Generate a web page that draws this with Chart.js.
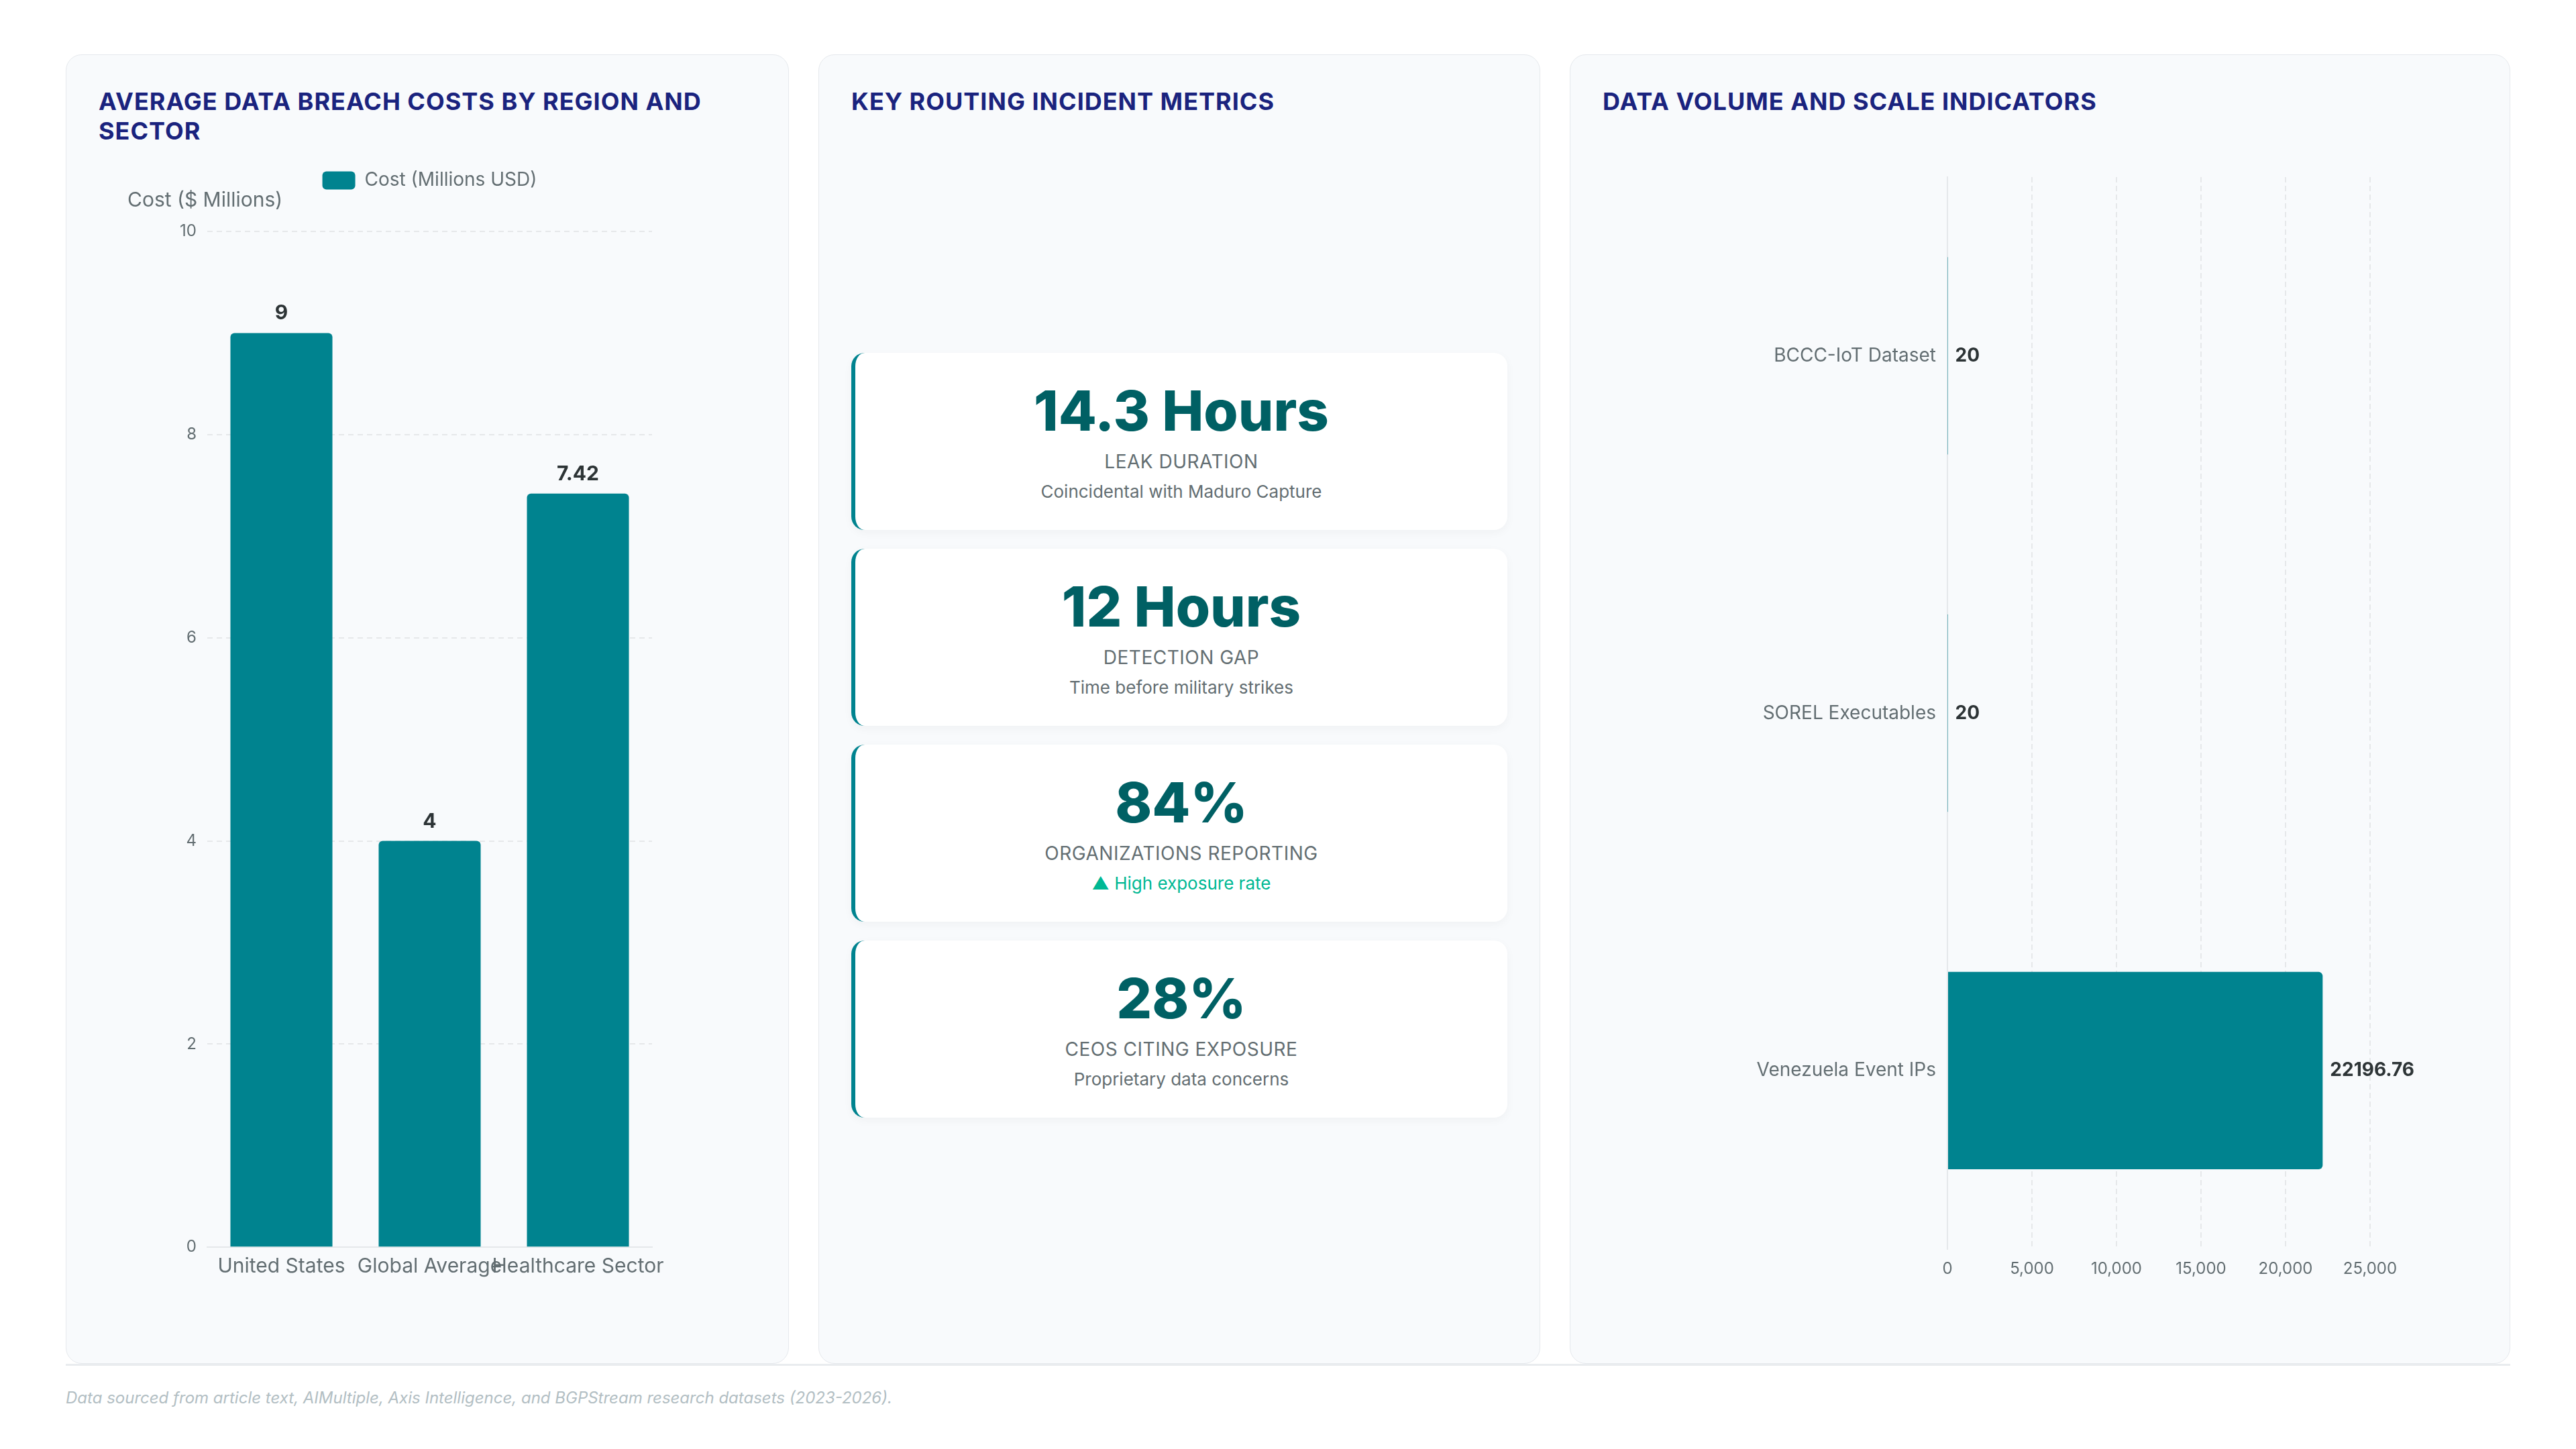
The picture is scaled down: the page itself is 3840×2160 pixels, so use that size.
<!DOCTYPE html>
<html lang="en">
<head>
<meta charset="utf-8">
<title>Routing incident dashboard</title>
<script src="https://cdn.jsdelivr.net/npm/chart.js@4.4.1/dist/chart.umd.min.js"></script>
<style>
	* { box-sizing: border-box; }
	html, body { margin: 0; background: #ffffff; }
	body {
		width: 3840px;
		height: 2160px;
		padding: 81px 98px 0;
		font-family: Inter, 'Noto Sans', sans-serif;
	}
	.grid {
		display: grid;
		grid-template-columns: 1078px 1076px 1402px;
		column-gap: 44px;
		height: 1955px;
		border-bottom: 3px solid #e9ecef;
	}
	.panel {
		background: #f8fafc;
		border: 1px solid #e6e9ed;
		border-radius: 24px;
		padding: 48px;
		display: flex;
		flex-direction: column;
		min-height: 0;
	}
	.panel h2 {
		margin: 0 0 20px;
		font-size: 36px;
		line-height: 1.22;
		font-weight: 700;
		color: #1a237e;
		letter-spacing: 1px;
		text-transform: uppercase;
	}
	.chart-box { position: relative; flex: 1; min-height: 0; }
	.kpis {
		flex: 1;
		display: flex;
		flex-direction: column;
		justify-content: center;
		gap: 28px;
		padding-top: 14px;
	}
	.kpi {
		height: 264px;
		background: #ffffff;
		border-left: 6px solid #00838f;
		border-radius: 20px;
		box-shadow: 0 4px 14px rgba(0, 0, 0, 0.04);
		display: flex;
		flex-direction: column;
		justify-content: center;
		align-items: center;
		text-align: center;
	}
	.kpi-value {
		font-size: 83px;
		line-height: 95px;
		font-weight: 800;
		color: #006064;
	}
	.kpi-label {
		margin-top: 9px;
		font-size: 28px;
		line-height: 1.4;
		color: #636e72;
		letter-spacing: 0.5px;
		text-transform: uppercase;
	}
	.kpi-note {
		margin-top: 7px;
		font-size: 26px;
		line-height: 1.4;
		color: #636e72;
	}
	.kpi-note.up { color: #00b894; }
	.footer {
		margin-top: 31px;
		font-size: 24px;
		line-height: 1.4;
		font-style: italic;
		color: #b2bec3;
	}
</style>
</head>
<body>
<div class="grid">
	<div class="panel">
		<h2>Average Data Breach Costs by Region and Sector</h2>
		<div class="chart-box"><canvas id="costChart"></canvas></div>
	</div>
	<div class="panel">
		<h2>Key Routing Incident Metrics</h2>
		<div class="kpis" id="kpis"></div>
	</div>
	<div class="panel">
		<h2>Data Volume and Scale Indicators</h2>
		<div class="chart-box"><canvas id="volumeChart"></canvas></div>
	</div>
</div>
<div class="footer">Data sourced from article text, AIMultiple, Axis Intelligence, and BGPStream research datasets (2023-2026).</div>

<script>
// breach cost chart
const costCategories = [ 'United States', 'Global Average', 'Healthcare Sector' ];
const costValues = [ 9, 4, 7.42 ];
const costSeriesName = 'Cost (Millions USD)';
const costAxisName = 'Cost ($ Millions)';

// data volume chart
const volumeCategories = [ 'BCCC-IoT Dataset', 'SOREL Executables', 'Venezuela Event IPs' ];
const volumeValues = [ 20, 20, 22196.76 ];

// metric cards
const kpiValues = [ '14.3 Hours', '12 Hours', '84%', '28%' ];
const kpiLabels = [ 'Leak Duration', 'Detection Gap', 'Organizations Reporting', 'CEOs Citing Exposure' ];
const kpiNotes = [ 'Coincidental with Maduro Capture', 'Time before military strikes', '▲ High exposure rate', 'Proprietary data concerns' ];
const kpiNoteUp = [ false, false, true, false ];

const TEAL = '#00838f';
const MUTED = '#636e72';
const GRID = 'rgba(0, 0, 0, 0.07)';

Chart.defaults.font.family = 'Inter, "Noto Sans", sans-serif';
Chart.defaults.color = MUTED;

// build the metric cards
const kpiBox = document.getElementById( 'kpis' );
kpiValues.forEach( ( value, i ) => {
	const card = document.createElement( 'div' );
	card.className = 'kpi';
	card.innerHTML =
		'<div class="kpi-value">' + value + '</div>' +
		'<div class="kpi-label">' + kpiLabels[ i ] + '</div>' +
		'<div class="kpi-note' + ( kpiNoteUp[ i ] ? ' up' : '' ) + '">' + kpiNotes[ i ] + '</div>';
	kpiBox.appendChild( card );
} );

// value labels drawn next to each bar
const valueLabels = {
	id: 'valueLabels',
	afterDatasetsDraw( chart, args, opts ) {
		const { ctx } = chart;
		const meta = chart.getDatasetMeta( 0 );
		const data = chart.data.datasets[ 0 ].data;
		const horizontal = chart.options.indexAxis === 'y';
		ctx.save();
		ctx.font = opts.font;
		ctx.fillStyle = '#2d3436';
		meta.data.forEach( ( bar, i ) => {
			const text = String( data[ i ] );
			if ( horizontal ) {
				ctx.textAlign = 'left';
				ctx.textBaseline = 'middle';
				ctx.fillText( text, bar.x + opts.offset, bar.y );
			} else {
				ctx.textAlign = 'center';
				ctx.textBaseline = 'middle';
				ctx.fillText( text, bar.x, bar.y - opts.offset );
			}
		} );
		ctx.restore();
	},
};

// horizontal axis name above the value axis
const axisCaption = {
	id: 'axisCaption',
	afterDraw( chart, args, opts ) {
		if ( ! opts.text ) {
			return;
		}
		const { ctx, chartArea } = chart;
		ctx.save();
		ctx.font = opts.font;
		ctx.fillStyle = MUTED;
		ctx.textAlign = 'left';
		ctx.textBaseline = 'middle';
		ctx.fillText( opts.text, chart.scales.y.left + opts.dx, chartArea.top - opts.dy );
		ctx.restore();
	},
};

// leave room under the legend for the axis name
const legendSpacer = {
	id: 'legendSpacer',
	beforeInit( chart, args, opts ) {
		if ( ! chart.legend ) {
			return;
		}
		const fit = chart.legend.fit;
		chart.legend.fit = function () {
			fit.bind( chart.legend )();
			this.height += opts.extra || 0;
		};
	},
};

new Chart( document.getElementById( 'costChart' ), {
	type: 'bar',
	data: {
		labels: costCategories,
		datasets: [
			{
				label: costSeriesName,
				data: costValues,
				backgroundColor: TEAL,
				borderRadius: 6,
				categoryPercentage: 0.8,
				barPercentage: 0.86,
			},
		],
	},
	plugins: [ valueLabels, axisCaption, legendSpacer ],
	options: {
		responsive: true,
		maintainAspectRatio: false,
		animation: false,
		layout: { padding: { top: 7, right: 155, bottom: 75, left: 0 } },
		scales: {
			x: {
				grid: { display: false },
				border: { display: true, color: '#e5e8eb', width: 2 },
				ticks: {
					color: MUTED,
					font: { size: 30 },
					padding: 3,
					maxRotation: 0,
					autoSkip: false,
				},
			},
			y: {
				beginAtZero: true,
				grid: { color: GRID, lineWidth: 2, drawTicks: false },
				border: { display: false, dash: [ 8, 6 ] },
				ticks: { color: MUTED, font: { size: 24 }, padding: 16, stepSize: 2 },
				afterFit( scale ) {
					scale.width = 162;
				},
			},
		},
		plugins: {
			legend: {
				position: 'top',
				fullSize: false,
				labels: {
					boxWidth: 49,
					boxHeight: 27,
					useBorderRadius: true,
					borderRadius: 6,
					color: MUTED,
					font: { size: 28 },
				},
			},
			tooltip: { enabled: false },
			legendSpacer: { extra: 52 },
			valueLabels: { font: '700 30px Inter, sans-serif', offset: 29 },
			axisCaption: { text: costAxisName, font: '400 30px Inter, sans-serif', dx: 43, dy: 46 },
		},
	},
} );

new Chart( document.getElementById( 'volumeChart' ), {
	type: 'bar',
	data: {
		labels: volumeCategories,
		datasets: [
			{
				label: 'Volume',
				data: volumeValues,
				backgroundColor: TEAL,
				borderRadius: 6,
				categoryPercentage: 0.8,
				barPercentage: 0.69,
			},
		],
	},
	plugins: [ valueLabels ],
	options: {
		indexAxis: 'y',
		responsive: true,
		maintainAspectRatio: false,
		animation: false,
		layout: { padding: { top: 70, right: 160, bottom: 63, left: 0 } },
		scales: {
			x: {
				beginAtZero: true,
				grid: { color: GRID, lineWidth: 2, drawTicks: false },
				border: { display: false, dash: [ 8, 5 ] },
				ticks: { color: MUTED, font: { size: 24 }, padding: 15, stepSize: 5000 },
			},
			y: {
				grid: { display: false },
				border: { display: true, color: '#e5e8eb', width: 2 },
				ticks: { color: MUTED, font: { size: 28 }, padding: 9 },
				afterFit( scale ) {
					scale.width = 514;
				},
			},
		},
		plugins: {
			legend: { display: false },
			tooltip: { enabled: false },
			valueLabels: { font: '700 28px Inter, sans-serif', offset: 11 },
		},
	},
} );
</script>
</body>
</html>
